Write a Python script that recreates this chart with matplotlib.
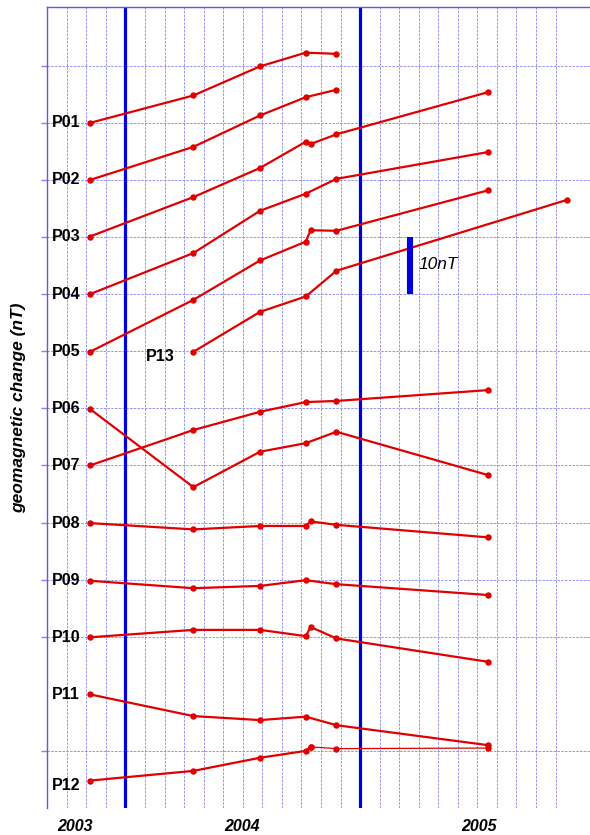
import numpy as np
import matplotlib
matplotlib.use('Agg')
import matplotlib.pyplot as plt
import matplotlib.transforms as mtransforms

plt.rcParams['font.family'] = ['Liberation Sans', 'DejaVu Sans']

# time axis in months from left edge of the plot
t7 = [2.18, 7.47, 10.88, 13.22, 13.47, 14.79, 22.56]
t5 = [2.18, 7.47, 10.88, 13.22, 14.79]
t6 = [2.18, 7.47, 10.88, 13.22, 14.79, 22.56]
t13 = [7.47, 10.88, 13.22, 14.79, 26.57]

# stacked geomagnetic change, nT (10 nT per grid step)
p01 = [120.0, 124.8, 129.9, 132.3, 132.1]
p02 = [110.0, 115.8, 121.3, 124.5, 125.8]
p03 = [100.1, 107.0, 112.1, 116.7, 116.3, 118.0, 125.4]
p04 = [90.0, 97.2, 104.6, 107.6, 110.2, 114.9]
p05 = [79.9, 89.0, 95.9, 99.2, 101.2, 101.1, 108.2]
p06 = [69.9, 56.2, 62.4, 63.9, 65.9, 58.3]
p07 = [60.0, 66.2, 69.4, 71.1, 71.3, 73.2]
p08 = [49.9, 48.8, 49.4, 49.4, 50.2, 49.6, 47.4]
p09 = [39.8, 38.5, 38.9, 39.9, 39.2, 37.3]
p10 = [29.9, 31.2, 31.2, 30.1, 31.7, 29.7, 25.6]
p11 = [19.9, 16.1, 15.4, 16.0, 14.5, 11.0]
p12 = [4.8, 6.5, 8.8, 10.0, 10.7, 10.4, 10.5]
p13 = [79.9, 86.9, 89.6, 94.1, 106.5]

series = [
    ('P01', t5, p01), ('P02', t5, p02), ('P03', t7, p03), ('P04', t6, p04),
    ('P05', t7, p05), ('P06', t6, p06), ('P07', t6, p07), ('P08', t7, p08),
    ('P09', t6, p09), ('P10', t7, p10), ('P11', t6, p11),
]

year_pos = [1.42, 9.96, 22.08]
year_lab = ['2003', '2004', '2005']
blue_lines = [4, 16]

red = '#e00000'
gridc = '#8484ec'

fig = plt.figure(figsize=(5.9, 8.35), dpi=100)
ax = fig.add_axes([47.3 / 590, 27 / 835, 1 - 47.3 / 590, 801 / 835])
ax.set_xlim(0, 27.76)
ax.set_ylim(0, 140.3)

ax.set_xticks(range(27))
ax.set_yticks([10] + list(range(30, 140, 10)))
ax.set_xticklabels([])
ax.set_yticklabels([])
ax.tick_params(axis='x', length=0)
ax.tick_params(axis='y', length=4, width=1, color=gridc, direction='out')
ax.grid(True, color=gridc, lw=0.6, ls=(0, (3, 1.5)))
ax.set_axisbelow(True)
for s in ['right', 'bottom']:
    ax.spines[s].set_visible(False)
for s in ['left', 'top']:
    ax.spines[s].set_color('#5a5ae6')
    ax.spines[s].set_linewidth(1)

for bx in blue_lines:
    ax.axvline(bx, ymin=0, ymax=0.997, color='#0000dd', lw=2.3, zorder=2)

lab_kw = dict(ha='left', va='center', fontsize=11.5, fontweight='bold')

for name, t, v in series:
    ax.plot(t, v, color=red, lw=1.6, marker='o', ms=3.6, zorder=3)
    ax.text(0.22, v[0], name, **lab_kw)

# P12: last segment drawn thinner
ax.plot(t7[:5], p12[:5], color=red, lw=1.6, marker='o', ms=3.6, zorder=3)
ax.plot(t7[4:], p12[4:], color=red, lw=0.9, marker='o', ms=3.6, zorder=3)
ax.text(0.22, 4.0, 'P12', **lab_kw)

ax.plot(t13, p13, color=red, lw=1.6, marker='o', ms=3.6, zorder=3)
ax.text(5.05, 79.0, 'P13', **lab_kw)

# 10 nT scale bar
ax.plot([18.54, 18.54], [90, 100], color='#0000dd', lw=4.4,
        solid_capstyle='butt', zorder=4)
ax.text(18.98, 95.2, '10nT', ha='left', va='center', fontsize=12.5,
        fontstyle='italic')

trans = mtransforms.blended_transform_factory(ax.transData, fig.transFigure)
for xp, lab in zip(year_pos, year_lab):
    ax.text(xp, 1 - 826.5 / 835, lab, transform=trans, ha='center',
            va='center', fontsize=11.5, fontweight='bold', fontstyle='italic')

fig.text(18.5 / 590, 1 - 408 / 835, 'geomagnetic change (nT)', rotation=90,
         ha='center', va='center', fontsize=12.5, fontweight='bold',
         fontstyle='italic')

fig.savefig('out.png', dpi=100)
